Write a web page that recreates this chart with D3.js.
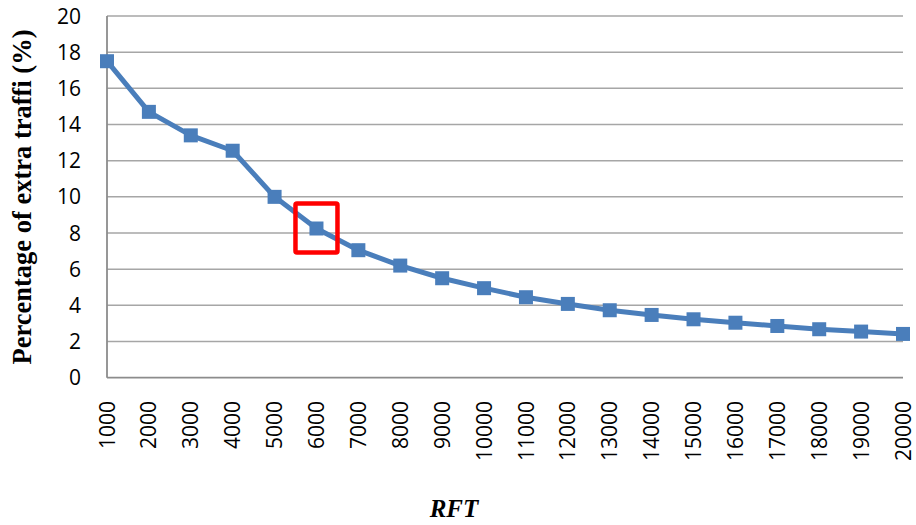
<!DOCTYPE html>
<html>
<head>
<meta charset="utf-8">
<script src="https://cdn.jsdelivr.net/npm/d3@7/dist/d3.min.js"></script>
<style>
  html, body { margin: 0; padding: 0; background: #fff; }
  svg { display: block; }
</style>
</head>
<body>
<svg id="chart" width="916" height="525"></svg>
<script>
// ---- data ----
const categories = [1000, 2000, 3000, 4000, 5000, 6000, 7000, 8000, 9000, 10000,
                    11000, 12000, 13000, 14000, 15000, 16000, 17000, 18000, 19000, 20000];
const extraTraffic = [17.5, 14.7, 13.4, 12.55, 10.0, 8.25, 7.05, 6.2, 5.5, 4.95,
                      4.45, 4.08, 3.73, 3.47, 3.23, 3.04, 2.86, 2.68, 2.55, 2.42];
const yTicks = [0, 2, 4, 6, 8, 10, 12, 14, 16, 18, 20];
const highlighted = [6000];
const yTitle = "Percentage of extra traffi (%)";
const xTitle = "RFT";

// ---- layout ----
const svg = d3.select("#chart");
const plotLeft = 107, plotRight = 903, plotTop = 16, plotBottom = 377.7;

const x = d3.scalePoint().domain(categories).range([plotLeft, plotRight]);
const y = d3.scaleLinear().domain([0, 20]).range([plotBottom, plotTop]);

// gridlines
svg.append("g").selectAll("line").data(yTicks.filter(d => d > 0)).join("line")
  .attr("x1", plotLeft).attr("x2", plotRight)
  .attr("y1", d => y(d)).attr("y2", d => y(d))
  .attr("stroke", "#a6a6a6").attr("stroke-width", 1.5);

// axes lines
svg.append("line").attr("x1", plotLeft).attr("x2", plotLeft).attr("y1", y(20)).attr("y2", plotBottom)
  .attr("stroke", "#8c8c8c").attr("stroke-width", 1.8);
svg.append("line").attr("x1", plotLeft).attr("x2", plotRight).attr("y1", plotBottom).attr("y2", plotBottom)
  .attr("stroke", "#8c8c8c").attr("stroke-width", 1.8);

// y tick labels
svg.append("g").selectAll("text").data(yTicks).join("text")
  .attr("x", 81).attr("y", d => y(d))
  .attr("dy", "0.36em")
  .attr("text-anchor", "end")
  .attr("font-family", "'Open Sans', sans-serif")
  .attr("font-size", 21)
  .attr("fill", "#000")
  .text(d => d);

// x tick labels (rotated)
svg.append("g").selectAll("text").data(categories).join("text")
  .attr("transform", d => `translate(${x(d)},401) rotate(-90)`)
  .attr("dy", "0.36em")
  .attr("text-anchor", "end")
  .attr("font-family", "'Open Sans', sans-serif")
  .attr("font-size", 21)
  .attr("fill", "#000")
  .text(d => d);

// line
const line = d3.line().x((d, i) => x(categories[i])).y(d => y(d));
svg.append("path").datum(extraTraffic)
  .attr("d", line)
  .attr("fill", "none")
  .attr("stroke", "#4a7ebb")
  .attr("stroke-width", 5)
  .attr("stroke-linejoin", "round");

// markers
const ms = 14;
svg.append("g").selectAll("rect").data(extraTraffic).join("rect")
  .attr("x", (d, i) => x(categories[i]) - ms / 2)
  .attr("y", d => y(d) - ms / 2)
  .attr("width", ms).attr("height", ms)
  .attr("fill", "#4a7ebb");

// highlight box
svg.append("g").selectAll("rect").data(highlighted).join("rect")
  .attr("x", d => x(d) - 21)
  .attr("y", d => y(extraTraffic[categories.indexOf(d)]) - 25)
  .attr("width", 42).attr("height", 49)
  .attr("rx", 1.5)
  .attr("fill", "none")
  .attr("stroke", "#ff0000")
  .attr("stroke-width", 4.5);

// axis titles
svg.append("text")
  .attr("transform", `translate(31,197) rotate(-90)`)
  .attr("text-anchor", "middle")
  .attr("font-family", "'Liberation Serif', 'Times New Roman', serif")
  .attr("font-weight", "bold")
  .attr("font-size", 26.5)
  .text(yTitle);

svg.append("text")
  .attr("x", 454).attr("y", 517)
  .attr("text-anchor", "middle")
  .attr("font-family", "'Liberation Serif', 'Times New Roman', serif")
  .attr("font-weight", "bold")
  .attr("font-style", "italic")
  .attr("font-size", 25)
  .text(xTitle);
</script>
</body>
</html>
